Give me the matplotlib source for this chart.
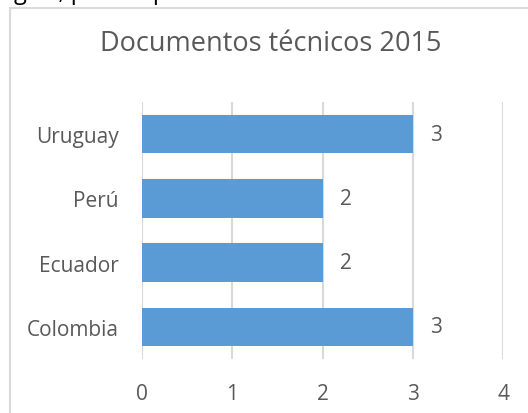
import matplotlib.pyplot as plt
from matplotlib.patches import Rectangle

paises = ["Colombia", "Ecuador", "Perú", "Uruguay"]
documentos = [3, 2, 2, 3]
x_ticks = [0, 1, 2, 3, 4]

titulo = "Documentos técnicos 2015"
texto_cortado = "gico, para el periodo de análisis"

plt.rcParams['font.family'] = ['Open Sans', 'DejaVu Sans']
gris = "#595959"

W, H = 528, 414
fig = plt.figure(figsize=(W / 100, H / 100), dpi=100)

# marco del gráfico (se sale de la imagen por la derecha y abajo)
fig.patches.append(Rectangle((10 / W, -0.1), 1.2, 1 - 9 / H + 0.1, transform=fig.transFigure,
                             fill=False, edgecolor="#d9d9d9", linewidth=1.5, clip_on=False))

# resto del texto del documento, cortado arriba (solo se ven los descendentes)
fig.text(14 / W, 1 + 1 / H, texto_cortado, fontsize=17, color="black", va="baseline", ha="left")

ax = fig.add_axes([142 / W, 1 - 360 / H, (503 - 142) / W, (360 - 103) / H])
ax.barh(range(len(paises)), documentos, height=0.6, color="#5b9bd5", zorder=3)
ax.set_xlim(0, 4)
ax.set_ylim(-0.5, len(paises) - 0.5)
ax.set_xticks(x_ticks)
ax.set_yticks(range(len(paises)))
ax.set_yticklabels(paises)
ax.grid(axis="x", color="#d9d9d9", linewidth=1.5, zorder=0)
for s in ax.spines.values():
    s.set_visible(False)
ax.tick_params(length=0, labelsize=15, colors=gris)
ax.tick_params(axis="y", pad=17)
ax.tick_params(axis="x", pad=17)

for i, v in enumerate(documentos):
    ax.text(v + 0.19, i, str(v), va="center", ha="left", fontsize=15, color=gris)

fig.text(271 / W, 1 - 44 / H, titulo, ha="center", va="center", fontsize=19.5, color=gris)

fig.savefig("out.png", dpi=100)
